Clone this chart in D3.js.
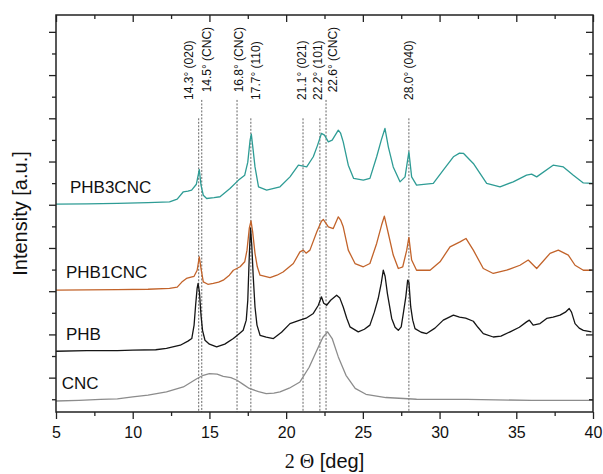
<!DOCTYPE html>
<html>
<head>
<meta charset="utf-8">
<title>XRD patterns PHB / CNC</title>
<script src="https://d3js.org/d3.v7.min.js"></script>
<style>
    body { margin: 0; background: #fff; overflow: hidden; }
    text { font-family: Arial, 'Liberation Sans', sans-serif; fill: #111; }
    .frame { fill: none; stroke: #222; stroke-width: 1.5px; }
    .axis path { display: none; }
    .axis line { stroke: #222; stroke-width: 1.3px; }
    .peak { stroke: #666; stroke-width: 1px; stroke-dasharray: 2, 1.5; }
    .curve { fill: none; stroke-width: 1.3px; stroke-linejoin: round; }
</style>
</head>
<body>
<script>
// 2 theta [deg] / intensity [a.u.] (curves are offset vertically)
const cncX = [5.0, 6.5, 7.9, 9.0, 10.0, 11.0, 12.2, 13.3, 14.2, 14.6, 15.0, 15.5, 15.9, 16.4, 16.8, 17.2, 17.6, 18.2, 18.7, 19.2,
    19.6, 20.2, 20.9, 21.5, 22.1, 22.4, 22.7, 23.0, 23.4, 23.9, 24.5, 25.2, 26.5, 28.5, 31.8, 36.0, 40.0];
const cncY = [0.92, 0.95, 0.99, 1.02, 1.11, 1.19, 1.34, 1.57, 1.96, 2.11, 2.19, 2.16, 2.06, 2.0, 1.88, 1.69, 1.5, 1.35, 1.26, 1.28,
    1.34, 1.51, 1.8, 2.48, 3.42, 3.87, 4.12, 3.81, 2.96, 2.11, 1.5, 1.23, 1.08, 1.0, 0.99, 0.95, 0.95];

const phbX = [5.0, 7.0, 9.0, 10.0, 11.5, 12.2, 13.1, 13.6, 13.85, 14.0, 14.1, 14.2, 14.26, 14.35, 14.45, 14.55, 14.71, 15.0, 15.47, 16.0,
    16.56, 16.9, 17.2, 17.4, 17.5, 17.6, 17.68, 17.76, 17.85, 17.97, 18.1, 18.3, 18.7, 19.17, 19.7, 20.25, 20.9, 21.3, 21.77, 22.1,
    22.3, 22.45, 22.64, 22.9, 23.29, 23.5, 23.72, 23.95, 24.16, 24.7, 25.1, 25.46, 25.75, 26.0, 26.2, 26.33, 26.45, 26.6, 26.88, 27.1,
    27.31, 27.5, 27.65, 27.8, 27.92, 28.0, 28.12, 28.25, 28.4, 28.8, 29.16, 29.7, 30.24, 30.9, 31.3, 31.7, 32.2, 32.5, 32.85, 33.5,
    34.0, 34.6, 35.2, 35.67, 35.85, 36.1, 36.55, 36.98, 37.4, 37.85, 38.2, 38.45, 38.6, 38.83, 39.1, 39.37, 39.9];
const phbY = [3.22, 3.25, 3.25, 3.27, 3.29, 3.35, 3.5, 3.69, 3.81, 4.43, 5.35, 6.14, 6.36, 5.95, 4.89, 4.19, 3.73, 3.55, 3.42, 3.55,
    3.81, 4.01, 4.19, 4.66, 5.58, 7.67, 8.92, 8.13, 6.74, 5.27, 4.43, 3.96, 3.87, 3.81, 4.1, 4.5, 4.66, 4.75, 4.97, 5.35,
    5.74, 5.44, 5.35, 5.58, 5.81, 5.68, 5.27, 4.75, 4.35, 4.12, 4.24, 4.43, 5.03, 5.66, 6.37, 6.97, 6.69, 5.89, 4.74, 4.33,
    4.19, 4.35, 5.03, 5.74, 6.51, 6.42, 5.27, 4.66, 4.27, 4.1, 4.04, 4.29, 4.66, 4.89, 4.8, 4.75, 4.61, 4.33, 4.04, 3.88,
    3.92, 4.12, 4.33, 4.58, 4.66, 4.43, 4.5, 4.74, 4.8, 4.89, 5.03, 5.2, 5.03, 4.5, 4.29, 4.19, 4.12];

const phb1X = [5.0, 7.0, 9.0, 11.0, 12.4, 12.9, 13.2, 13.5, 13.8, 14.0, 14.2, 14.34, 14.45, 14.6, 14.9, 15.25, 15.6, 15.9, 16.3, 16.56,
    17.0, 17.3, 17.45, 17.6, 17.71, 17.82, 17.97, 18.12, 18.3, 18.95, 19.4, 19.8, 20.47, 20.9, 21.12, 21.3, 21.55, 22.0, 22.3, 22.42,
    22.75, 23.07, 23.4, 23.55, 23.72, 24.05, 24.49, 25.03, 25.46, 25.9, 26.22, 26.4, 26.66, 26.98, 27.31, 27.6, 27.86, 28.0, 28.18, 28.5,
    29.38, 30.03, 30.68, 31.33, 31.72, 32.2, 32.85, 33.5, 34.37, 35.24, 35.78, 36.33, 37.2, 37.74, 38.39, 38.83, 39.37, 39.91];
const phb1Y = [6.05, 6.06, 6.07, 6.09, 6.13, 6.19, 6.42, 6.59, 6.65, 6.69, 6.97, 7.59, 7.06, 6.43, 6.32, 6.36, 6.42, 6.51, 6.74, 6.97,
    7.13, 7.36, 7.9, 8.92, 9.25, 8.73, 7.75, 7.13, 6.74, 6.63, 6.74, 6.89, 7.28, 7.82, 7.9, 7.76, 7.9, 8.75, 9.24, 9.32,
    8.98, 8.9, 9.44, 9.29, 8.98, 7.9, 7.28, 7.13, 7.28, 8.21, 9.06, 9.47, 8.67, 7.67, 7.05, 7.13, 7.9, 8.49, 7.44, 6.97,
    6.97, 7.36, 8.05, 8.28, 8.44, 7.9, 7.05, 6.82, 6.97, 7.2, 7.44, 7.05, 7.75, 7.9, 7.67, 7.2, 6.97, 6.97];

const phb3X = [5.0, 7.0, 9.0, 11.0, 12.4, 12.9, 13.3, 13.6, 13.84, 14.15, 14.34, 14.45, 14.6, 14.82, 15.3, 15.69, 16.34, 16.9, 17.3, 17.5,
    17.65, 17.73, 17.85, 17.97, 18.2, 18.73, 19.6, 20.25, 20.8, 21.34, 21.77, 22.05, 22.3, 22.5, 22.75, 23.0, 23.4, 23.55, 23.72, 24.05,
    24.4, 25.03, 25.46, 25.9, 26.2, 26.44, 26.66, 26.98, 27.42, 27.75, 28.0, 28.18, 28.5, 29.59, 30.24, 30.9, 31.3, 31.55, 32.2, 33.07,
    33.94, 34.8, 35.67, 36.0, 36.33, 37.4, 38.07, 38.72, 39.37, 39.98];
const phb3Y = [10.03, 10.04, 10.06, 10.1, 10.13, 10.26, 10.6, 10.63, 10.68, 10.95, 11.63, 10.91, 10.44, 10.29, 10.33, 10.37, 10.75, 11.14, 11.37, 11.97,
    12.99, 13.27, 12.53, 11.75, 10.83, 10.68, 10.83, 11.29, 11.83, 11.75, 12.22, 12.76, 13.3, 13.22, 12.91, 12.99, 13.45, 13.31, 12.91, 11.83,
    11.22, 11.14, 11.22, 12.22, 12.99, 13.53, 12.68, 11.75, 11.06, 11.29, 12.45, 11.29, 10.91, 10.99, 11.6, 12.22, 12.39, 12.38, 11.91, 10.99,
    10.83, 11.06, 11.37, 11.42, 11.29, 11.83, 11.75, 11.37, 11.01, 10.99];

const sampleNames = ['CNC', 'PHB', 'PHB1CNC', 'PHB3CNC'];
const sampleColors = ['#8c8c8c', '#151515', '#c2632a', '#2e9c95'];
const sampleX = [cncX, phbX, phb1X, phb3X];
const sampleY = [cncY, phbY, phb1Y, phb3Y];

// reflections marked with dashed lines
const peakPos = [14.3, 14.5, 16.8, 17.7, 21.1, 22.2, 22.6, 28.0];
const peakLabels = ['14.3° (020)', '14.5° (CNC)', '16.8° (CNC)', '17.7° (110)', '21.1° (021)', '22.2° (101)', '22.6° (CNC)', '28.0° (040)'];
const peakFromCNC = [false, true, true, false, false, false, true, false];

const xMajor = [5, 10, 15, 20, 25, 30, 35, 40];
const xMinor = [7.5, 12.5, 17.5, 22.5, 27.5, 32.5, 37.5];
const yTicks = d3.range(1, 19);

// layout
const width = 603, height = 474;
const margin = { top: 15, right: 10, bottom: 62, left: 56 };
const labelDx = [-6, 9, 6, 9, 3, 2, 11, 4];          // px from the dashed line to the label baseline
const namePos = [[5.37, 1.46], [5.65, 3.73], [5.65, 6.6], [5.91, 10.54]]; // where the sample names sit

const svg = d3.select('body').append('svg').attr('width', width).attr('height', height);

const x = d3.scaleLinear().domain([5, 40]).range([margin.left, width - margin.right]);
const y = d3.scaleLinear().domain([0.41, 18.78]).range([height - margin.bottom, margin.top]);

// dashed reference lines
svg.append('g')
    .selectAll('line')
    .data(peakPos)
    .join('line')
    .attr('class', 'peak')
    .attr('x1', (d) => x(d))
    .attr('x2', (d) => x(d))
    .attr('y1', (d, i) => (peakFromCNC[i] ? y(14.85) : y(14.0)))
    .attr('y2', y.range()[0]);

svg.append('g')
    .selectAll('text')
    .data(peakLabels)
    .join('text')
    .attr('transform', (d, i) => `translate(${x(peakPos[i]) + labelDx[i]},${peakFromCNC[i] ? y(15.2) : y(14.85)}) rotate(-90)`)
    .attr('font-size', 12)
    .text((d) => d);

// curves
const line = d3.line().x((d) => x(d[0])).y((d) => y(d[1]));
sampleNames.forEach((name, i) => {
    const pts = sampleX[i].map((v, j) => [v, sampleY[i][j]]);
    svg.append('path').attr('class', 'curve').attr('stroke', sampleColors[i]).attr('d', line(pts));
    svg.append('text')
        .attr('x', x(namePos[i][0]))
        .attr('y', y(namePos[i][1]))
        .attr('font-size', 17)
        .text(name);
});

// axes: bottom/left ticks outside, top/right ticks inside
const plotBottom = height - margin.bottom;
const plotRight = width - margin.right;

const bottom = svg.append('g').attr('class', 'axis').attr('transform', `translate(0,${plotBottom})`);
bottom.call(d3.axisBottom(x).tickValues(xMajor).tickSize(7).tickPadding(8).tickFormat(d3.format('d')));
bottom.selectAll('text').attr('font-size', 16).style('font-family', 'Arial, Liberation Sans, sans-serif').attr('fill', '#111');
svg.append('g').attr('class', 'axis').attr('transform', `translate(0,${plotBottom})`)
    .call(d3.axisBottom(x).tickValues(xMinor).tickSize(4).tickFormat(''));

svg.append('g').attr('class', 'axis').attr('transform', `translate(0,${margin.top})`)
    .call(d3.axisTop(x).tickValues(xMajor).tickSize(-7).tickFormat(''));
svg.append('g').attr('class', 'axis').attr('transform', `translate(0,${margin.top})`)
    .call(d3.axisTop(x).tickValues(xMinor).tickSize(-4).tickFormat(''));

svg.append('g').attr('class', 'axis').attr('transform', `translate(${margin.left},0)`)
    .call(d3.axisLeft(y).tickValues(yTicks.filter((d) => d % 2 === 0)).tickSize(7).tickFormat(''));
svg.append('g').attr('class', 'axis').attr('transform', `translate(${margin.left},0)`)
    .call(d3.axisLeft(y).tickValues(yTicks.filter((d) => d % 2 === 1)).tickSize(4).tickFormat(''));
svg.append('g').attr('class', 'axis').attr('transform', `translate(${plotRight},0)`)
    .call(d3.axisRight(y).tickValues(yTicks.filter((d) => d % 2 === 0)).tickSize(-7).tickFormat(''));
svg.append('g').attr('class', 'axis').attr('transform', `translate(${plotRight},0)`)
    .call(d3.axisRight(y).tickValues(yTicks.filter((d) => d % 2 === 1)).tickSize(-4).tickFormat(''));

svg.append('rect')
    .attr('class', 'frame')
    .attr('x', margin.left)
    .attr('y', margin.top)
    .attr('width', plotRight - margin.left)
    .attr('height', plotBottom - margin.top);

// axis titles
const xt = svg.append('text')
    .attr('x', (margin.left + plotRight) / 2)
    .attr('y', 468)
    .attr('text-anchor', 'middle')
    .attr('font-size', 20);
xt.append('tspan').style('font-family', "'Liberation Serif', 'Times New Roman', serif").text('2 Θ');
xt.append('tspan').text(' [deg]');

svg.append('text')
    .attr('transform', `translate(27,${(margin.top + plotBottom) / 2}) rotate(-90)`)
    .attr('text-anchor', 'middle')
    .attr('font-size', 20)
    .text('Intensity [a.u.]');
</script>
</body>
</html>
